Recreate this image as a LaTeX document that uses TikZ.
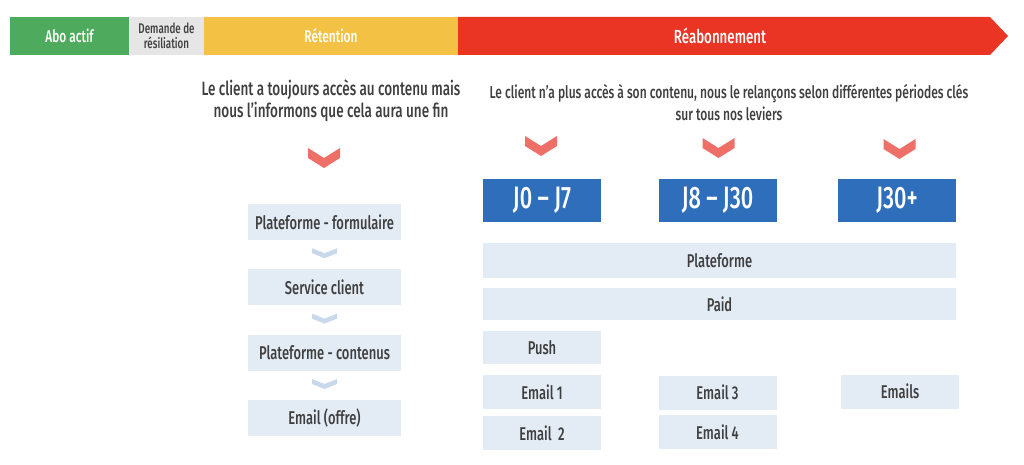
\documentclass[tikz,border=0pt]{standalone}
\usepackage{fontspec}
\setmainfont[FakeStretch=0.70, UprightFont=* Medium]{Fira Sans}
\usetikzlibrary{positioning}
\definecolor{vert}{HTML}{4EAA5C}
\definecolor{gris}{HTML}{E6E6E6}
\definecolor{jaune}{HTML}{F3C244}
\definecolor{rouge}{HTML}{EA3424}
\definecolor{saumon}{HTML}{EE6F68}
\definecolor{bleu}{HTML}{2F6EBA}
\definecolor{bleuclair}{HTML}{E3EBF5}
\definecolor{chevclair}{HTML}{C9D9EC}
\definecolor{texte}{HTML}{3F3F3F}

\begin{document}
\begin{tikzpicture}[x=1pt, y=-1pt,
    phase/.style={minimum height=38pt, inner sep=0pt, text=white,
        font=\fontsize{17}{19}\selectfont},
    intro/.style={align=center, text=texte, font=\fontsize{19.3}{22}\selectfont},
    periode/.style={fill=bleu, minimum width=118pt, minimum height=43pt,
        inner sep=0pt, text=white, font=\fontsize{31}{32}\selectfont},
    levier/.style={fill=bleuclair, minimum width=118pt, minimum height=34pt,
        inner sep=0pt, text=texte, font=\fontsize{18.5}{20}\selectfont},
    etape/.style={levier, minimum width=153pt, minimum height=36pt},
    chevron/.pic={\fill[saumon] (-16,0) -- (0,10) -- (16,0) -- (16,10) -- (0,20) -- (-16,10) -- cycle;},
    chevpetit/.pic={\fill[chevclair] (-12.5,0) -- (0,5) -- (12.5,0) -- (12.5,5) -- (0,10) -- (-12.5,5) -- cycle;}]
    \useasboundingbox (0,0) rectangle (1024,465);

    % bandeau des phases
    \node [phase, fill=vert, minimum width=119pt] (abo) at (69.5,36) {Abo actif};
    \node [phase, fill=gris, minimum width=75pt, text=texte, align=center,
        font=\fontsize{14}{15}\selectfont] (dem) at (166.5,36) {Demande de\\résiliation};
    \node [phase, fill=jaune, minimum width=254pt] (ret) at (331,36) {Rétention};
    \fill [rouge] (458,17) -- (990,17) -- (1008,36) -- (990,55) -- (458,55) -- cycle;
    \node [phase, font=\fontsize{19}{21}\selectfont] (reab) at (720,36) {Réabonnement};

    % retention
    \node [intro] (txtret) at (331,101) {Le client a toujours accès au contenu mais\\nous l’informons que cela aura une fin};
    \pic at (324,148) {chevron};
    \node [etape] (f1) at (324.5,222) {Plateforme - formulaire};
    \node [etape, below=29pt of f1] (f2) {Service client};
    \node [etape, below=29pt of f2] (f3) {Plateforme - contenus};
    \node [etape, below=29pt of f3] (f4) {Email (offre)};
    \foreach \a in {f1,f2,f3}
        \path (\a.south) ++(0,8) pic {chevpetit};

    % reabonnement
    \node [intro, font=\fontsize{17.2}{22}\selectfont] (txtreab) at (729,103) {Le client n’a plus accès à son contenu, nous le relançons selon différentes périodes clés\\sur tous nos leviers};
    \pic at (541,136) {chevron};
    \pic at (718.5,138) {chevron};
    \pic at (899.5,139) {chevron};
    \node [periode] (j0) at (542,200.5) {J0 – J7};
    \node [periode] (j8) at (717.5,200.5) {J8 – J30};
    \node [periode] (j30) at (897,200.5) {J30+};
    \node [levier, minimum width=473pt, minimum height=35pt] (plat) at (719.5,260.5) {Plateforme};
    \node [levier, minimum width=473pt, minimum height=32pt] (paid) at (719.5,304) {Paid};
    \node [levier, minimum height=33pt] (push) at (542,347.5) {Push};
    \node [levier] (m1) at (542,392) {Email 1};
    \node [levier, below=7pt of m1] (m2) {Email~~2};
    \node [levier] (m3) at (717.5,392.5) {Email 3};
    \node [levier, below=5pt of m3] (m4) {Email 4};
    \node [levier] (mails) at (900,391.5) {Emails};
\end{tikzpicture}
\end{document}
